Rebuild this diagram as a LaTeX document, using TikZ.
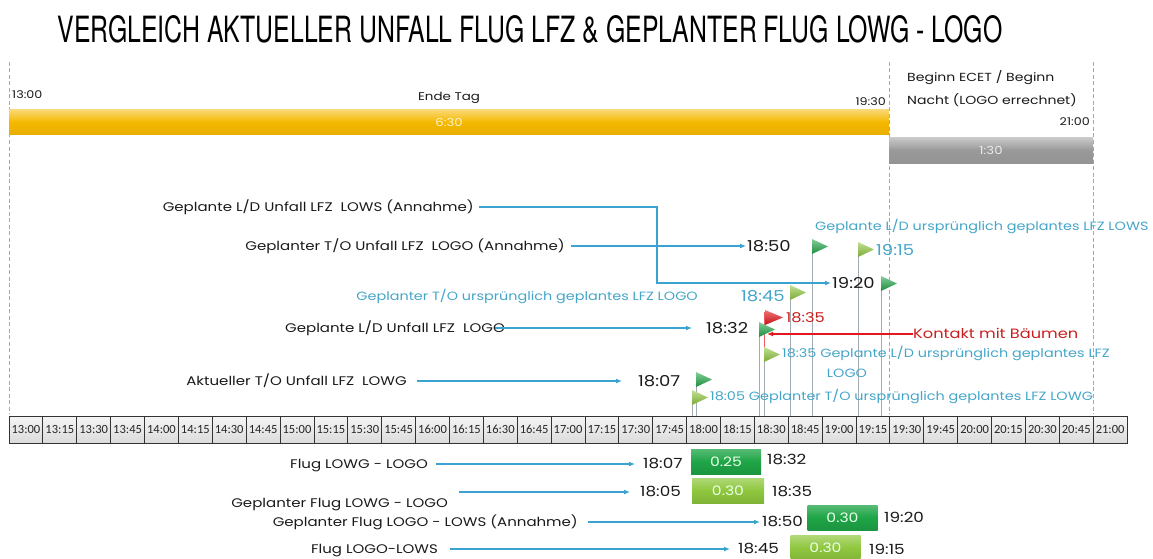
\documentclass[tikz,border=0pt]{standalone}
\usepackage{fontspec}
\setmainfont{Poppins}[FakeStretch=1.2]
\newfontfamily\titlefont{TeX Gyre Heros}
\newfontfamily\cellfont{Carlito}
\usetikzlibrary{arrows.meta}
\definecolor{cyanl}{HTML}{3AA3CF}
\definecolor{lblue}{HTML}{45A5C8}
\definecolor{dgreen}{HTML}{1FA547}
\definecolor{lgreen}{HTML}{8FC73E}
\definecolor{fred}{HTML}{E5161C}
\definecolor{tred}{HTML}{C8201E}
\definecolor{gold}{HTML}{F5B800}
\definecolor{dashgray}{HTML}{A8A8A8}
\definecolor{polegray}{HTML}{A3ABB3}
\definecolor{txt}{HTML}{1A1A1A}
\newcommand\drawflag[3]{%
  \draw[pole] (#1,#2+2) -- (#1,416);
  \shade[top color=#3!55!white, bottom color=#3!85!black] (#1,#2) -- (#1+16,#2+7.5) -- (#1,#2+15) -- cycle;}
\begin{document}
\begin{tikzpicture}[x=1pt,y=-1pt,
  lbl/.style={font=\fontsize{12.5}{14}\selectfont, text=txt, inner sep=0pt, text height=11.75pt, text depth=3pt},
  lb/.style={font=\fontsize{12}{14}\selectfont, text=lblue, inner sep=0pt, text height=11.4pt, text depth=3pt},
  lbt/.style={font=\fontsize{15}{17}\selectfont, text=lblue, inner sep=0pt, text height=13.5pt, text depth=3pt},
  tm/.style={font=\fontsize{15}{17}\selectfont, text=txt, inner sep=0pt, text height=13.5pt, text depth=3pt},
  bt/.style={font=\fontsize{14}{16}\selectfont, text=txt, inner sep=0pt, text height=12.8pt, text depth=3pt},
  rt/.style={font=\fontsize{13.5}{15}\selectfont, text=tred, inner sep=0pt, text height=12.45pt, text depth=3pt},
  sm/.style={font=\fontsize{10.6}{12}\selectfont, text=txt, inner sep=0pt, text height=10.4pt, text depth=3pt},
  arr/.style={draw=cyanl, line width=1.3pt, -{Latex[length=6pt,width=5pt]}},
  dsh/.style={draw=dashgray, line width=0.9pt, dash pattern=on 4pt off 2.5pt},
  pole/.style={draw=polegray, line width=0.9pt},
  cell/.style={draw=black!80, line width=0.8pt, top color=white!96!black, bottom color=white!86!black,
     minimum width=33.88pt, minimum height=27pt, inner sep=0pt, text=black!85, font=\cellfont\fontsize{12.5}{14}\selectfont},
  gbox/.style={minimum width=70pt, minimum height=25pt, inner sep=0pt, text=white!92!green, font=\fontsize{13}{15}\selectfont}
]
\useasboundingbox (0,0) rectangle (1153,559);

% title
\node[inner sep=0pt, anchor=south] (title) at (530,44) {\resizebox{945pt}{27pt}{\titlefont VERGLEICH AKTUELLER UNFALL FLUG LFZ \& GEPLANTER FLUG LOWG - LOGO}};

% dashed verticals
\draw[dsh] (9,62) -- (9,414);
\draw[dsh] (889,62) -- (889,414);
\draw[dsh] (1093,62) -- (1093,414);

% top bars
\node[sm, anchor=west] (t1300) at (12,95) {13:00};
\node[lbl, font=\fontsize{11.2}{13}\selectfont] (endetag) at (449,96) {Ende Tag};
\node[sm, anchor=east] (t1930) at (886,102) {19:30};
\node[draw=none, minimum width=880pt, minimum height=24pt, inner sep=0pt,
  top color=gold!55!white, bottom color=gold!95!black, middle color=gold,
  text=white!80!gold, font=\fontsize{11}{13}\selectfont] (ybar) at (449,122) {6:30};
\node[font=\fontsize{11.7}{23.5}\selectfont, text=txt, inner sep=0pt, anchor=north west, align=left] (beginn) at (907,70) {Beginn ECET / Beginn\\Nacht (LOGO errechnet)};
\node[sm, anchor=east] (t2100) at (1090,122) {21:00};
\node[minimum width=204pt, minimum height=26pt, inner sep=0pt,
  top color=white!80!black, bottom color=black!42, middle color=black!40,
  text=white!92!black, font=\fontsize{11}{13}\selectfont] (gbar) at (991,150) {1:30};

% flags
\drawflag{812}{239}{dgreen}
\drawflag{858}{242}{lgreen}
\drawflag{881}{276}{dgreen}
\drawflag{790}{285}{lgreen}
\draw[draw=fred!70, line width=1pt] (764,312) -- (764,416);
\shade[top color=fred!60!white, bottom color=fred!85!black] (765,310) -- (783,317.5) -- (765,325) -- cycle;
\drawflag{759}{322}{dgreen}
\drawflag{764}{347}{lgreen}
\drawflag{696}{372}{dgreen}
\drawflag{692}{390}{lgreen}

% middle labels
\coordinate (bend) at (657,0);
\node[lbl, anchor=east, inner xsep=5pt] (ldlows) at (479,207) {Geplante L/D Unfall LFZ\ \ LOWS (Annahme)};
\node[tm, anchor=west, inner xsep=1pt] (t1920) at (831,283) {19:20};
\draw[arr] (ldlows.east) -- (ldlows.east -| bend) |- (t1920.west);

\node[lbl, anchor=east, inner xsep=6pt] (tolog) at (571,246) {Geplanter T/O Unfall LFZ\ \ LOGO (Annahme)};
\node[tm, anchor=west, inner xsep=1pt] (t1850) at (746,246) {18:50};
\draw[arr] (tolog.east) -- (t1850.west);

\node[lb, anchor=west] (ldlows2) at (815,226) {Geplante L/D ursprünglich geplantes LFZ LOWS};
\node[lbt, anchor=west] (t1915a) at (876,250) {19:15};
\node[lb, anchor=east] (tolog2) at (698,296) {Geplanter T/O ursprünglich geplantes LFZ LOGO};
\node[lbt, anchor=west] (t1845a) at (741,296) {18:45};

\node[lbl, anchor=east] (ldlogo) at (505,328) {Geplante L/D Unfall LFZ\ \ LOGO};
\node[tm, anchor=west] (t1832) at (706,328) {18:32};
\draw[arr] ([xshift=-10pt]ldlogo.east) -- ([xshift=-14pt]t1832.west);

\node[rt, anchor=west] (t1835r) at (786,318) {18:35};
\node[rt, anchor=west] (kontakt) at (913,334) {Kontakt mit Bäumen};
\coordinate (redtip) at (767,334);
\draw[draw=fred, line width=1.3pt, -{Latex[length=6pt,width=5pt]}] (kontakt.west) -- (redtip);

\node[lb, anchor=west] (ld1835) at (782,353) {18:35 Geplante L/D ursprünglich geplantes LFZ};
\node[lb] (logo2) at (847,373) {LOGO};

\node[lbl, anchor=east, inner xsep=10pt] (aktto) at (417,381) {Aktueller T/O Unfall LFZ\ \ LOWG};
\node[tm, anchor=west, inner xsep=16pt] (t1807) at (622,381) {18:07};
\draw[arr] (aktto.east) -- (t1807.west);

\node[lb, anchor=west] (to1805) at (710,396) {18:05 Geplanter T/O ursprünglich geplantes LFZ LOWG};

% time table
\foreach \t [count=\i from 0] in {13:00,13:15,13:30,13:45,14:00,14:15,14:30,14:45,15:00,15:15,15:30,15:45,16:00,16:15,16:30,16:45,17:00,17:15,17:30,17:45,18:00,18:15,18:30,18:45,19:00,19:15,19:30,19:45,20:00,20:15,20:30,20:45,21:00}{
  \node[cell] (c\i) at ({9+(\i+0.5)*33.88},429.5) {\t};
}

% bottom flights
\node[lbl, anchor=east, inner xsep=8pt] (f1) at (436,464) {Flug LOWG - LOGO};
\node[bt, anchor=west, inner xsep=8pt] (f1a) at (635,464) {18:07};
\draw[arr] (f1.east) -- (f1a.west);
\node[gbox, top color=dgreen!75!white, bottom color=dgreen!90!black, middle color=dgreen] (b1) at (726,461.5) {0.25};
\node[bt, anchor=west] (f1b) at (767,460) {18:32};

\node[lbl, anchor=east] (f2) at (448,503) {Geplanter Flug LOWG - LOGO};
\coordinate (f2s) at (459,492);
\node[bt, anchor=west, inner xsep=10pt] (f2a) at (630,492) {18:05};
\draw[arr] (f2s) -- (f2a.west);
\node[gbox, minimum width=72pt, top color=lgreen!70!white, bottom color=lgreen!90!black, middle color=lgreen] (b2) at (728,490.5) {0.30};
\node[bt, anchor=west] (f2b) at (772,492) {18:35};

\node[lbl, anchor=east, inner xsep=10pt] (f3) at (588,522) {Geplanter Flug LOGO - LOWS (Annahme)};
\node[bt, anchor=west, inner xsep=2pt] (f3a) at (760,522) {18:50};
\draw[arr] (f3.east) -- (f3a.west);
\node[gbox, top color=dgreen!75!white, bottom color=dgreen!90!black, middle color=dgreen] (b3) at (842.5,517.5) {0.30};
\node[bt, anchor=west] (f3b) at (884,518) {19:20};

\node[lbl, anchor=east, inner xsep=12pt] (f4) at (450,549) {Flug LOGO-LOWS};
\node[bt, anchor=west, inner xsep=8pt] (f4a) at (730,549) {18:45};
\draw[arr] (f4.east) -- (f4a.west);
\node[gbox, top color=lgreen!70!white, bottom color=lgreen!90!black, middle color=lgreen] (b4) at (825.5,548) {0.30};
\node[bt, anchor=west] (f4b) at (869,550) {19:15};
\end{tikzpicture}
\end{document}
